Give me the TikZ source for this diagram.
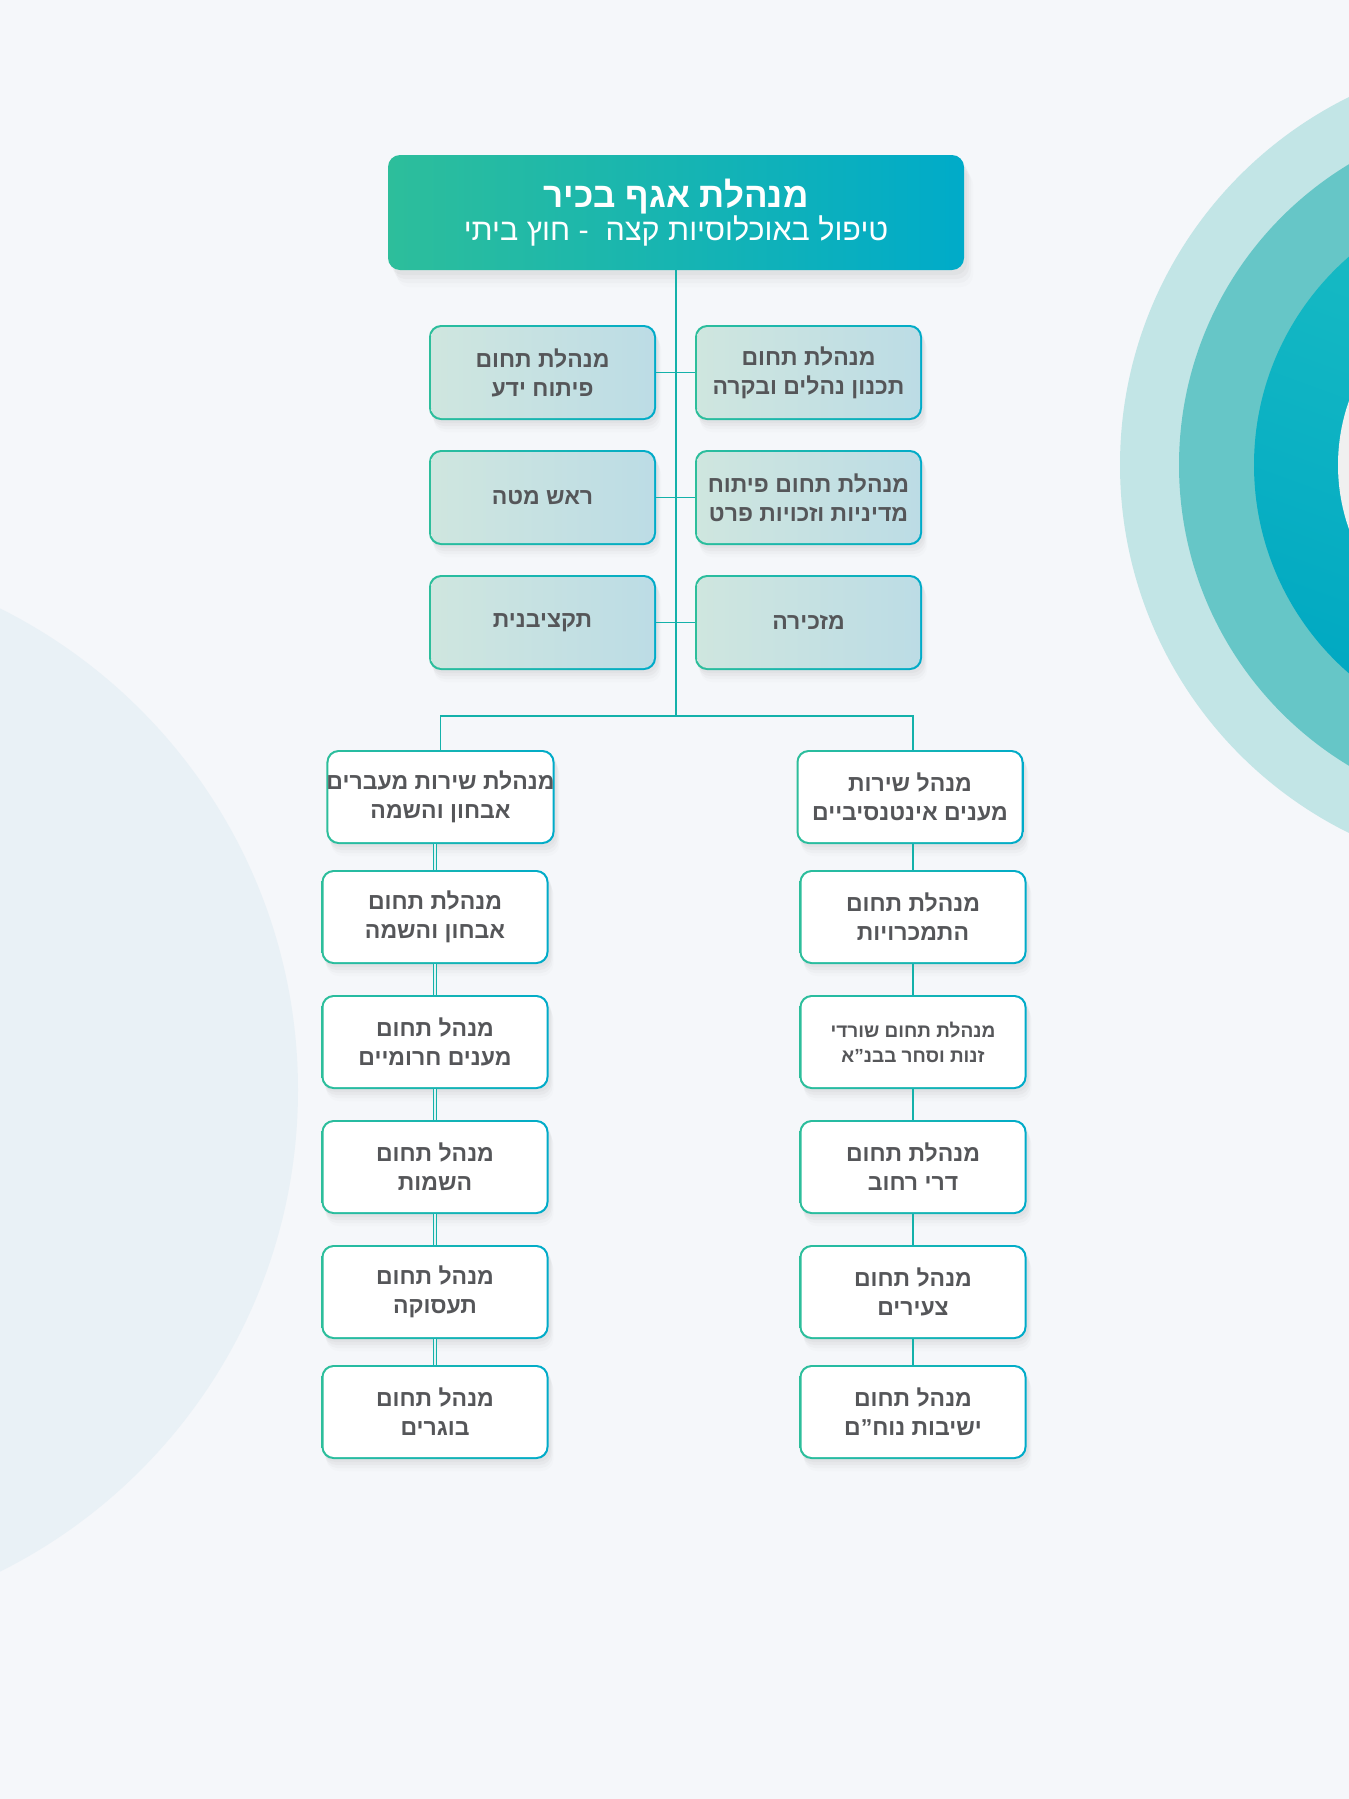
\documentclass[tikz,border=0pt]{standalone}
\usepackage{fontspec}
\setmainfont{Liberation Sans}
\newfontfamily\hebfont[Script=Hebrew]{Liberation Sans}
\TeXXeTstate=1
\usetikzlibrary{shadows,calc}
\definecolor{bgc}{HTML}{F5F7FA}
\definecolor{circL}{HTML}{E9F1F6}
\definecolor{ringA}{HTML}{C2E5E6}
\definecolor{ringB}{HTML}{66C6C7}
\definecolor{ringCa}{HTML}{1DBFC4}
\definecolor{ringCb}{HTML}{00A8C2}
\definecolor{tealL}{HTML}{2DBE9B}
\definecolor{tealR}{HTML}{00ABC9}
\definecolor{paleL}{HTML}{CFE6DF}
\definecolor{paleR}{HTML}{BCDCE5}
\definecolor{txt}{HTML}{555659}
\definecolor{linec}{HTML}{14B1AA}
\newcommand{\RL}[1]{\beginR #1\endR}
\tikzset{
  softshadow/.style={
    drop shadow={shadow xshift=2pt, shadow yshift=-3pt, opacity=0.05},
    drop shadow={shadow xshift=3pt, shadow yshift=-6pt, opacity=0.05},
    drop shadow={shadow xshift=4pt, shadow yshift=-9pt, opacity=0.04},
    drop shadow={shadow xshift=5pt, shadow yshift=-12pt, opacity=0.025}},
  basebox/.style={rounded corners=12pt, left color=tealL, right color=tealR, draw=none,
    minimum width=227pt, minimum height=94pt, inner sep=0pt, align=center, text=txt,
    font=\hebfont\bfseries\fontsize{23}{29}\selectfont, softshadow},
  whitebox/.style={basebox, path picture={\fill[white, rounded corners=10.5pt]
    ([shift={(2pt,2pt)}]path picture bounding box.south west) rectangle
    ([shift={(-2pt,-2pt)}]path picture bounding box.north east);}},
  palebox/.style={basebox, minimum height=95pt, path picture={\shade[left color=paleL, right color=paleR, rounded corners=10.5pt]
    ([shift={(2pt,2pt)}]path picture bounding box.south west) rectangle
    ([shift={(-2pt,-2pt)}]path picture bounding box.north east);}},
  topbox/.style={rounded corners=12pt, left color=tealL, right color=tealR, draw=none,
    minimum width=576pt, minimum height=115pt, inner sep=0pt, align=center, text=white,
    drop shadow={shadow xshift=3pt, shadow yshift=-5pt, opacity=0.06},
    drop shadow={shadow xshift=5pt, shadow yshift=-9pt, opacity=0.05},
    drop shadow={shadow xshift=7pt, shadow yshift=-13pt, opacity=0.04},
    drop shadow={shadow xshift=9pt, shadow yshift=-17pt, opacity=0.025}},
  conn/.style={draw=linec, line width=1.8pt},
  dconn/.style={draw=linec, line width=1.2pt, double=bgc!60!linec!30!white, double distance=1.6pt},
  smalltxt/.style={font=\hebfont\bfseries\fontsize{19}{25}\selectfont}
}
\begin{document}
\begin{tikzpicture}[x=1pt,y=-1pt]
\useasboundingbox (0,0) rectangle (1349,1799);
\fill[bgc] (0,0) rectangle (1349,1799);
\begin{scope}
\clip (0,0) rectangle (1349,1799);
\fill[circL] (-240,1090) circle[radius=538];
\fill[ringA] (1530,465) circle[radius=410];
\fill[ringB] (1530,465) circle[radius=351];
\shade[top color=ringCa, bottom color=ringCb, shading angle=-20] (1530,465) circle[radius=276];
\fill[white!94!black] (1530,465) circle[radius=192];
\end{scope}

% top
\node[topbox] (top) at (676,212.5)
  {{\hebfont\bfseries\fontsize{35}{38}\selectfont\RL{מנהלת אגף בכיר}}\\
   {\hebfont\fontsize{30.5}{34}\selectfont\RL{טיפול באוכלוסיות קצה\ \ - חוץ ביתי}}};

% upper rows
\node[palebox] (a1) at (542.5,372.5) {\RL{מנהלת תחום}\\\RL{פיתוח ידע}};
\node[palebox] (b1) at (808.5,372.5) {\RL{מנהלת תחום}\\\RL{תכנון נהלים ובקרה}};
\node[palebox] (a2) at (542.5,497.5) {\RL{ראש מטה}};
\node[palebox] (b2) at (808.5,497.5) {\RL{מנהלת תחום פיתוח}\\\RL{מדיניות וזכויות פרט}};
\node[palebox] (a3) at (542.5,622.5) {\RL{תקציבנית}};
\node[palebox] (b3) at (808.5,622.5) {\RL{מזכירה}};

% left column
\node[whitebox] (l1) at (440.5,797) {\RL{מנהלת שירות מעברים}\\\RL{אבחון והשמה}};
\node[whitebox] (l2) at (435,917) {\RL{מנהלת תחום}\\\RL{אבחון והשמה}};
\node[whitebox] (l3) at (435,1042) {\RL{מנהל תחום}\\\RL{מענים חרומיים}};
\node[whitebox] (l4) at (435,1167) {\RL{מנהל תחום}\\\RL{השמות}};
\node[whitebox] (l5) at (435,1292) {\RL{מנהל תחום}\\\RL{תעסוקה}};
\node[whitebox] (l6) at (435,1412) {\RL{מנהל תחום}\\\RL{בוגרים}};

% right column
\node[whitebox] (r1) at (910,797) {\RL{מנהל שירות}\\\RL{מענים אינטנסיביים}};
\node[whitebox] (r2) at (913,917) {\RL{מנהלת תחום}\\\RL{התמכרויות}};
\node[whitebox, smalltxt] (r3) at (913,1042) {\RL{מנהלת תחום שורדי}\\\RL{זנות וסחר בבנ”א}};
\node[whitebox] (r4) at (913,1167) {\RL{מנהלת תחום}\\\RL{דרי רחוב}};
\node[whitebox] (r5) at (913,1292) {\RL{מנהל תחום}\\\RL{צעירים}};
\node[whitebox] (r6) at (913,1412) {\RL{מנהל תחום}\\\RL{ישיבות נוח”ם}};

% connectors
\coordinate (trunkB) at (676,716);
\coordinate (barL) at (440.5,716);
\coordinate (barR) at (913,716);
\draw[conn] (top.south) -- (trunkB);
\draw[conn] (a1.east) -- (b1.west);
\draw[conn] (a2.east) -- (b2.west);
\draw[conn] (a3.east) -- (b3.west);
\draw[conn] (barL |- l1.north) -- (barL) -- (barR) -- (barR |- r1.north);
\draw[dconn] (l2.north |- l1.south) -- (l2.north);
\draw[dconn] (l2.south) -- (l3.north);
\draw[dconn] (l3.south) -- (l4.north);
\draw[dconn] (l4.south) -- (l5.north);
\draw[dconn] (l5.south) -- (l6.north);
\draw[conn] (r2.north |- r1.south) -- (r2.north);
\draw[conn] (r2.south) -- (r3.north);
\draw[conn] (r3.south) -- (r4.north);
\draw[conn] (r4.south) -- (r5.north);
\draw[conn] (r5.south) -- (r6.north);
\end{tikzpicture}
\end{document}
